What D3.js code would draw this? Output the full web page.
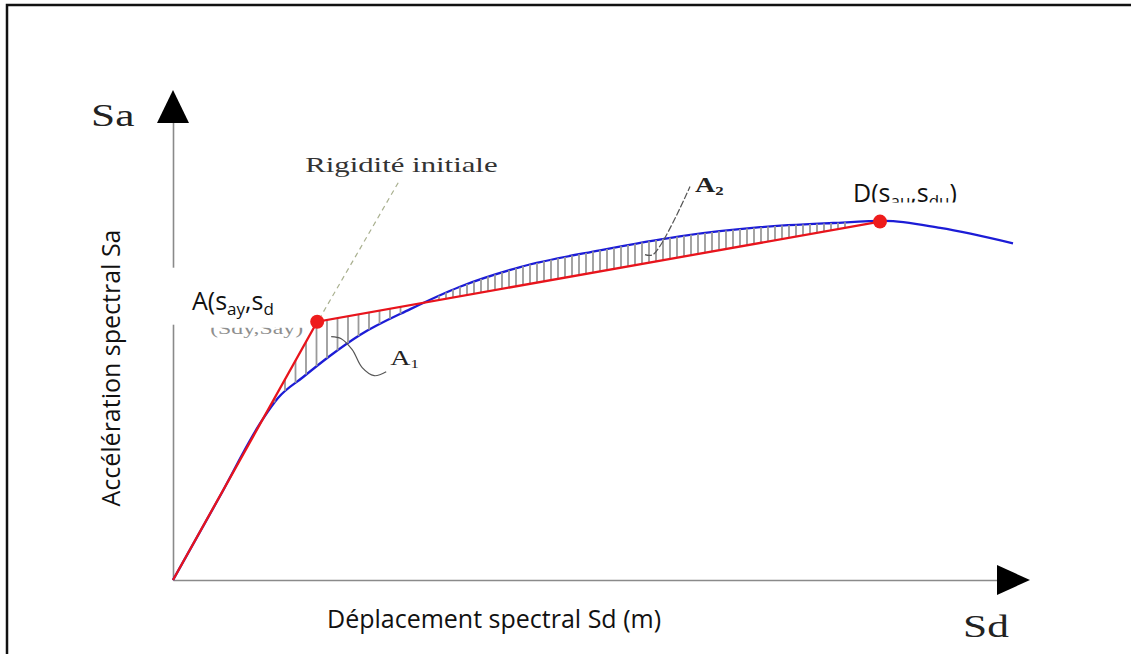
<!DOCTYPE html>
<html>
<head>
<meta charset="UTF-8">
<title>Courbe de capacité - représentation bilinéaire</title>
<script src="https://d3js.org/d3.v7.min.js"></script>
<style>
  body {
    margin: 0;
    background: #fff;
    overflow: hidden;
  }
  .sans {
    font-family: 'Open Sans', sans-serif;
    fill: #111;
  }
  .serif {
    font-family: 'Liberation Serif', 'Times New Roman', serif;
    fill: #222;
  }
</style>
</head>
<body>
<svg id="chart" width="1131" height="654"></svg>
<script>
  // courbe de capacité (unités arbitraires)
  const capaciteSd = [0, 0.65, 1.29, 1.5, 1.86, 2.24, 2.67, 3.39, 4.1, 4.96, 6.1, 7.24, 8.39, 9.43, 10.17, 10.96, 12.0];
  const capaciteSa = [0, 1.16, 2.31, 2.6, 2.9, 3.2, 3.5, 3.87, 4.19, 4.47, 4.71, 4.91, 5.04, 5.1, 5.13, 5.03, 4.81];

  // représentation bilinéaire : origine, A (plastification), D (ultime)
  const bilinSd = [0, 2.06, 10.1];
  const bilinSa = [0, 3.69, 5.12];

  // étendue des zones hachurées A1 et A2 (en Sd) et pas des hachures
  const zoneA1 = [1.45, 3.3, 0.15];
  const zoneA2 = [3.6, 9.7, 0.1];

  const width = 1131;
  const height = 654;

  const svg = d3.select("#chart");

  const x = d3.scaleLinear().domain([0, 11.8]).range([173, 999]);
  const y = d3.scaleLinear().domain([0, 6.6]).range([580, 118]);

  const capacite = capaciteSd.map((d, i) => ({ sd: d, sa: capaciteSa[i] }));
  const bilin = bilinSd.map((d, i) => ({ sd: d, sa: bilinSa[i] }));
  const ptA = bilin[1], ptD = bilin[2];
  const ax = x(ptA.sd), ay = y(ptA.sa);

  // cadre
  svg.append("rect")
    .attr("x", 7).attr("y", 5)
    .attr("width", width + 20).attr("height", height + 20)
    .attr("fill", "none")
    .attr("stroke", "#111")
    .attr("stroke-width", 2.5);

  // axes sans graduations
  const xAxis = svg.append("g")
    .attr("transform", `translate(0,${y(0)})`)
    .call(d3.axisBottom(x).tickValues([]).tickSizeOuter(0));
  const yAxis = svg.append("g")
    .attr("transform", `translate(${x(0)},0)`)
    .call(d3.axisLeft(y).tickValues([]).tickSizeOuter(0));
  [xAxis, yAxis].forEach(g => g.select(".domain")
    .attr("stroke", "#8a8a8a")
    .attr("stroke-width", 1.6));

  const xEnd = x.range()[1], yTop = y.range()[1];
  svg.append("path")
    .attr("d", `M${xEnd - 2},${y(0) - 15}L${xEnd + 31},${y(0)}L${xEnd - 2},${y(0) + 15}Z`)
    .attr("fill", "#000");
  svg.append("path")
    .attr("d", `M${x(0) - 16},${yTop + 5}L${x(0)},${yTop - 28}L${x(0) + 16},${yTop + 5}Z`)
    .attr("fill", "#000");

  svg.append("text")
    .attr("class", "serif")
    .attr("transform", `translate(91,126) scale(1.4,1)`)
    .style("font-size", "31px")
    .text("Sa");
  svg.append("text")
    .attr("class", "serif")
    .attr("transform", `translate(963,637) scale(1.4,1)`)
    .style("font-size", "31px")
    .text("Sd");

  svg.append("text")
    .attr("class", "sans")
    .attr("x", 327).attr("y", 628)
    .style("font-size", "25px")
    .text("Déplacement spectral Sd (m)");
  svg.append("text")
    .attr("class", "sans")
    .attr("transform", `translate(120,368) rotate(-90)`)
    .attr("text-anchor", "middle")
    .style("font-size", "25px")
    .text("Accélération spectral Sa");

  // ancienne étiquette de A, masquée sauf le bas
  svg.append("clipPath")
    .attr("id", "clipOld")
    .append("rect")
    .attr("x", ax - 120).attr("y", ay + 6)
    .attr("width", 120).attr("height", 20);
  svg.append("g")
    .attr("clip-path", "url(#clipOld)")
    .append("text")
    .attr("class", "serif")
    .attr("transform", `translate(${ax - 107},${ay + 12}) scale(1.4,1)`)
    .style("font-size", "17px")
    .style("fill", "#8f8f8f")
    .text("(Sdy,Say)");
  svg.append("rect")
    .attr("x", x(0) - 1).attr("y", ay - 54)
    .attr("width", 133).attr("height", 57)
    .attr("fill", "#fff");

  // ligne "rigidité initiale"
  svg.append("text")
    .attr("class", "serif")
    .attr("transform", `translate(${ax - 12},${ay - 150}) scale(1.4,1)`)
    .style("font-size", "22px")
    .style("fill", "#333")
    .text("Rigidité initiale");
  svg.append("line")
    .attr("x1", ax + 81).attr("y1", ay - 139)
    .attr("x2", ax + 4).attr("y2", ay - 6)
    .attr("stroke", "#a9b08f")
    .attr("stroke-width", 1.2)
    .attr("stroke-dasharray", "5,4");

  // courbe de capacité
  const blueLine = d3.line()
    .x(d => x(d.sd))
    .y(d => y(d.sa))
    .curve(d3.curveMonotoneX);
  const bluePath = svg.append("path")
    .datum(capacite)
    .attr("d", blueLine)
    .attr("fill", "none")
    .attr("stroke", "#1c1cd6")
    .attr("stroke-width", 2.3);

  // échantillonnage de la courbe pour les hachures
  const node = bluePath.node();
  const total = node.getTotalLength();
  const samples = d3.range(0, total, 0.5).map(l => node.getPointAtLength(l));
  const bisect = d3.bisector(p => p.x).center;
  const blueAt = px => samples[bisect(samples, px)].y;
  const redAt = sd => sd <= ptA.sd
    ? y(ptA.sa * sd / ptA.sd)
    : y(ptA.sa + (ptD.sa - ptA.sa) * (sd - ptA.sd) / (ptD.sd - ptA.sd));

  const hatchSd = [zoneA1, zoneA2].flatMap(z => d3.range(z[0], z[1], z[2]));
  svg.append("g")
    .selectAll("line")
    .data(hatchSd.filter(sd => Math.abs(redAt(sd) - blueAt(x(sd))) > 2.5))
    .join("line")
    .attr("x1", sd => x(sd)).attr("x2", sd => x(sd))
    .attr("y1", sd => redAt(sd))
    .attr("y2", sd => blueAt(x(sd)))
    .attr("stroke", "#9a9a9a")
    .attr("stroke-width", 1.8);

  // représentation bilinéaire
  svg.append("path")
    .datum(bilin)
    .attr("d", d3.line().x(d => x(d.sd)).y(d => y(d.sa)))
    .attr("fill", "none")
    .attr("stroke", "#e8141c")
    .attr("stroke-width", 2.3);

  svg.append("g")
    .selectAll("circle")
    .data([ptA, ptD])
    .join("circle")
    .attr("cx", d => x(d.sd))
    .attr("cy", d => y(d.sa))
    .attr("r", 7)
    .attr("fill", "#ee1c1c");

  // repères A1 et A2
  const leader = d3.line().curve(d3.curveCatmullRom);
  svg.append("path")
    .attr("d", leader([[ax + 14, ay + 15], [ax + 24, ay + 17], [ax + 35, ay + 28],
      [ax + 45, ay + 46], [ax + 57, ay + 54], [ax + 69, ay + 50]]))
    .attr("fill", "none")
    .attr("stroke", "#555")
    .attr("stroke-width", 1.2);
  svg.append("text")
    .attr("class", "serif")
    .attr("transform", `translate(${ax + 73},${ay + 43}) scale(1.4,1)`)
    .style("font-size", "20px")
    .call(t => {
      t.append("tspan").text("A");
      t.append("tspan").style("font-size", "12px").attr("dy", 3).text("1");
    });

  const dx = x(ptD.sd), dy = y(ptD.sa);
  svg.append("path")
    .attr("d", leader([[dx - 235, dy + 33], [dx - 227, dy + 33], [dx - 190, dy - 35]]))
    .attr("fill", "none")
    .attr("stroke", "#555")
    .attr("stroke-width", 1.2)
    .attr("stroke-dasharray", "7,2");
  svg.append("text")
    .attr("class", "serif")
    .attr("transform", `translate(${dx - 185},${dy - 30}) scale(1.4,1)`)
    .style("font-size", "20px")
    .style("font-weight", "bold")
    .call(t => {
      t.append("tspan").text("A");
      t.append("tspan").style("font-size", "12px").attr("dy", 3).text("2");
    });

  // étiquettes des points
  const subLabel = (g, parts) => parts.forEach(p => {
    g.append("tspan")
      .style("font-size", p.sub ? "17px" : "25px")
      .attr("dy", p.dy)
      .text(p.t);
  });

  svg.append("text")
    .attr("class", "sans")
    .attr("x", x(0) + 19).attr("y", ay - 12)
    .call(g => subLabel(g, [
      { t: "A(s", dy: 0 }, { t: "ay", sub: true, dy: 5 },
      { t: ",s", dy: -5 }, { t: "d", sub: true, dy: 5 }
    ]));

  svg.append("clipPath")
    .attr("id", "clipD")
    .append("rect")
    .attr("x", dx - 60).attr("y", dy - 50)
    .attr("width", 160).attr("height", 31);
  svg.append("text")
    .attr("class", "sans")
    .attr("clip-path", "url(#clipD)")
    .attr("x", dx - 27).attr("y", dy - 20)
    .call(g => subLabel(g, [
      { t: "D(s", dy: 0 }, { t: "au", sub: true, dy: 5 },
      { t: ",s", dy: -5 }, { t: "du", sub: true, dy: 5 },
      { t: ")", dy: -5 }
    ]));
</script>
</body>
</html>
